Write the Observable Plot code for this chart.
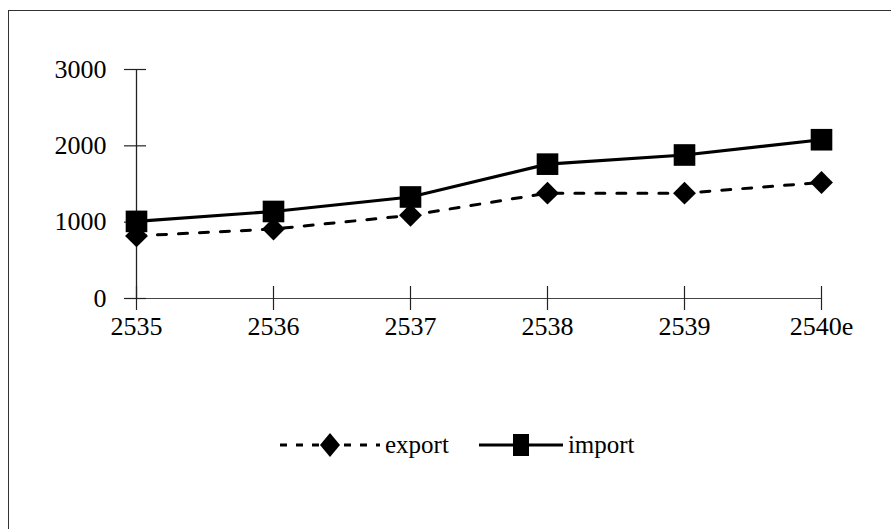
<!DOCTYPE html>
<html>
<head>
<meta charset="utf-8">
<script src="https://cdn.jsdelivr.net/npm/d3@7"></script>
<script src="https://cdn.jsdelivr.net/npm/@observablehq/plot@0.6"></script>
<style>
  html, body { margin: 0; padding: 0; background: #fff; }
  #page { position: relative; width: 891px; height: 529px; overflow: hidden; background: #fff; }
  #frame { position: absolute; left: 8px; top: 10px; width: 900px; height: 540px;
           border-left: 1.5px solid #333; border-top: 1.5px solid #333; }
  #chart { position: absolute; left: 0; top: 0; }
  #legend { position: absolute; left: 280px; top: 430px; display: flex; align-items: center;
            font-family: "Liberation Serif", "Times New Roman", serif; font-size: 25px; color: #000; }
  #legend .item { display: flex; align-items: center; }
  #legend svg { display: block; }
  #legend span { margin-left: 5px; margin-right: 30px; }
</style>
</head>
<body>
<div id="page">
  <div id="frame"></div>
  <div id="chart"></div>
  <div id="legend"></div>
</div>
<script>
// Categories (years, Buddhist era; "e" = estimate)
const years = ["2535", "2536", "2537", "2538", "2539", "2540e"];
// Series values
const exportValues = [820, 910, 1090, 1380, 1380, 1520];
const importValues = [1010, 1140, 1330, 1760, 1880, 2080];
// Y-axis tick values
const yTicks = [0, 1000, 2000, 3000];
const seriesNames = ["export", "import"];

const rows = years.flatMap((year, i) => [
  {year, series: "export", value: exportValues[i]},
  {year, series: "import", value: importValues[i]}
]);

const W = 891, H = 360;
const M = {top: 69, right: 70, bottom: 62, left: 135};
const plotW = W - M.left - M.right;
const plotH = H - M.top - M.bottom;

const chart = Plot.plot({
  width: W,
  height: H,
  marginTop: M.top,
  marginRight: M.right,
  marginBottom: M.bottom,
  marginLeft: M.left,
  style: {fontFamily: "'Liberation Serif', 'Times New Roman', serif", fontSize: "26px", color: "#000", background: "transparent"},
  x: {type: "point", domain: years, padding: 0},
  y: {domain: [0, 3000]},
  marks: [
    // axis lines
    Plot.ruleY([0], {stroke: "#444", strokeWidth: 1}),
    Plot.ruleX([years[0]], {x: d => d, y1: 0, y2: 3000, stroke: "#222", strokeWidth: 1.3}),
    // cross ticks on both axes
    Plot.tickX(years, {x: d => d, insetTop: plotH - 12, insetBottom: -12, stroke: "#222", strokeWidth: 1.2}),
    Plot.tickY(yTicks, {y: d => d, insetLeft: -11, insetRight: plotW - 11, stroke: "#222", strokeWidth: 1.2}),
    // tick labels
    Plot.axisY(yTicks, {tickSize: 0, tickPadding: 29, label: null, fontSize: 26, tickFormat: d => String(d)}),
    Plot.axisX(years, {tickSize: 0, tickPadding: 18, label: null, fontSize: 26}),
    // export: dashed line with diamonds
    Plot.line(rows, {filter: d => d.series === "export", x: "year", y: "value",
      stroke: "#000", strokeWidth: 3, strokeDasharray: "9,12"}),
    Plot.dot(rows, {filter: d => d.series === "export", x: "year", y: "value",
      symbol: "diamond2", r: 10.3, fill: "#000", stroke: "none"}),
    // import: solid line with squares
    Plot.line(rows, {filter: d => d.series === "import", x: "year", y: "value",
      stroke: "#000", strokeWidth: 3.2}),
    Plot.dot(rows, {filter: d => d.series === "import", x: "year", y: "value",
      symbol: "square", r: 12.2, fill: "#000", stroke: "none"})
  ]
});
document.getElementById("chart").append(chart);

// Legend: line swatch with marker, then the series name
const legend = d3.select("#legend");
const swatchStyle = {
  export: {width: 100, dash: "7,9", marker: "diamond"},
  import: {width: 84, dash: null, marker: "square"}
};
for (const name of seriesNames) {
  const st = swatchStyle[name];
  const item = legend.append("div").attr("class", "item");
  const svg = item.append("svg").attr("width", st.width).attr("height", 30);
  const cx = st.width / 2;
  svg.append("line")
    .attr("x1", 0).attr("x2", st.width).attr("y1", 15).attr("y2", 15)
    .attr("stroke", "#000").attr("stroke-width", 3.2)
    .attr("stroke-dasharray", st.dash);
  if (st.marker === "diamond") {
    svg.append("path").attr("d", `M${cx},3L${cx + 10},15L${cx},27L${cx - 10},15Z`).attr("fill", "#000");
  } else {
    svg.append("rect").attr("x", cx - 8).attr("y", 4).attr("width", 16).attr("height", 22).attr("fill", "#000");
  }
  item.append("span").text(name);
}
</script>
</body>
</html>
